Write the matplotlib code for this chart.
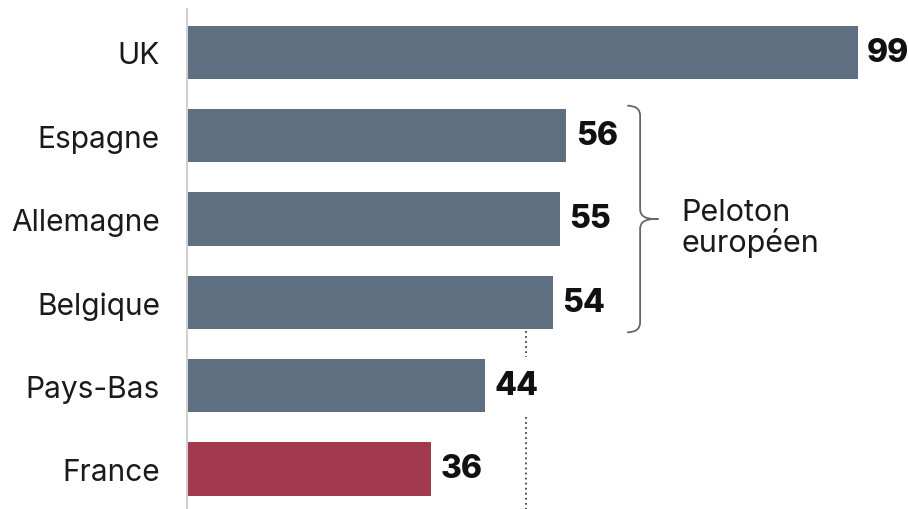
import numpy as np
import matplotlib
matplotlib.use("Agg")
import matplotlib.pyplot as plt
from matplotlib.path import Path
from matplotlib.patches import PathPatch

# ── Data ──────────────────────────────────────────────────────────────────────
countries = ["UK", "Espagne", "Allemagne", "Belgique", "Pays-Bas", "France"]
values    = [99, 56, 55, 54, 44, 36]
highlight = "France"
ref_value = 50          # dotted reference line
group_label = "Peloton\neuropéen"
group_members = ["Espagne", "Allemagne", "Belgique"]

BAR_COLOR = "#5f6f82"
HI_COLOR  = "#a23a4e"
BAR_H     = 0.64

plt.rcParams["font.family"] = ["Inter", "DejaVu Sans"]

fig = plt.figure(figsize=(9.09, 5.10), dpi=100)
ax = fig.add_axes([187 / 909, 0.0, 1 - 187 / 909, 500 / 510])

y = np.arange(len(countries))
colors = [HI_COLOR if c == highlight else BAR_COLOR for c in countries]
ax.barh(y, values, height=BAR_H, color=colors, zorder=2)

for yi, v in zip(y, values):
    ax.text(v + 1.4, yi, f"{v}", va="center", ha="left",
            fontsize=23, fontweight="heavy", color="#111111")

ax.set_yticks(y)
ax.set_yticklabels(countries, fontsize=21.5, color="#1a1a1a")
ax.tick_params(axis="y", length=0, pad=19.5)
ax.set_xticks([])
ax.set_xlim(0, 106.6)
ax.set_ylim(5.48, -0.52)

for s in ["top", "right", "bottom"]:
    ax.spines[s].set_visible(False)
ax.spines["left"].set_color("#d0d0d0")
ax.spines["left"].set_linewidth(1.5)

# dotted reference line, visible only below the bars that exceed it
i_pb = countries.index("Pays-Bas")
i_be = countries.index("Belgique")
ax.vlines([ref_value, ref_value],
          [i_be + BAR_H / 2 + 0.03, i_pb + BAR_H / 2 + 0.06],
          [i_pb - BAR_H / 2 - 0.03, 5.48], color="#444444",
          linestyle=(0, (1, 1.8)), linewidth=1.3, zorder=1)

# bracket for the European group
g_idx = [countries.index(c) for c in group_members]
top = min(g_idx) - BAR_H / 2 - 0.04
bot = max(g_idx) + BAR_H / 2 + 0.04
mid = (top + bot) / 2
x0, x1, x2 = 65.0, 66.9, 69.6
verts = [(x0, top), (x1, top), (x1, top + 0.12),
         (x1, mid - 0.12),
         (x1, mid), (x2 - 0.6, mid), (x2, mid),
         (x2 - 0.6, mid), (x1, mid), (x1, mid + 0.12),
         (x1, bot - 0.12),
         (x1, bot), (x0, bot)]
codes = [Path.MOVETO, Path.CURVE3, Path.CURVE3,
         Path.LINETO,
         Path.CURVE3, Path.CURVE3, Path.LINETO,
         Path.LINETO, Path.CURVE3, Path.CURVE3,
         Path.LINETO,
         Path.CURVE3, Path.CURVE3]
ax.add_patch(PathPatch(Path(verts, codes), facecolor="none",
                       edgecolor="#666666", linewidth=1.3, clip_on=False))

ax.text(73.0, mid + 0.1, group_label, va="center", ha="left", fontsize=22,
        color="#1a1a1a", linespacing=1.05)

fig.savefig("out.png", dpi=100)
